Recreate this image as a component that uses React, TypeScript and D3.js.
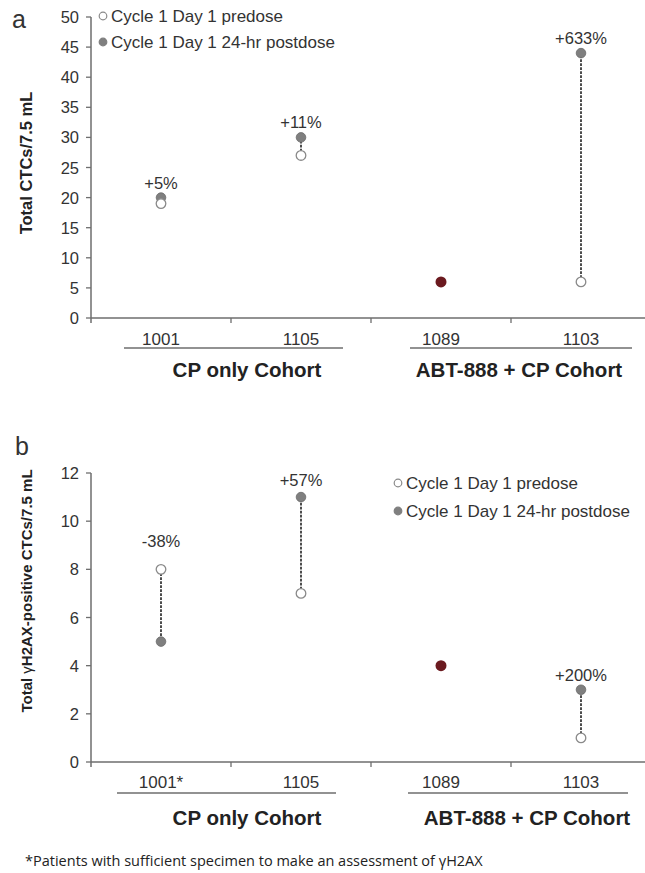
import React from "react";
import * as d3 from "d3";

const categoriesA = ["1001", "1105", "1089", "1103"];
const predoseA = [19, 27, null, 6];
const postdoseA = [20, 30, null, 44];
const unchangedA = [null, null, 6, null];
const changeA = ["+5%", "+11%", null, "+633%"];
const yTicksA = [0, 5, 10, 15, 20, 25, 30, 35, 40, 45, 50];

const categoriesB = ["1001*", "1105", "1089", "1103"];
const predoseB = [8, 7, null, 1];
const postdoseB = [5, 11, null, 3];
const unchangedB = [null, null, 4, null];
const changeB = ["-38%", "+57%", null, "+200%"];
const yTicksB = [0, 2, 4, 6, 8, 10, 12];

const legendLabels = ["Cycle 1 Day 1 predose", "Cycle 1 Day 1 24-hr postdose"];
const cohortLabels = ["CP only Cohort", "ABT-888 + CP Cohort"];
const footnote = "*Patients with sufficient specimen to make an assessment of \u03B3H2AX";

const FONT = "'Liberation Sans', Arial, sans-serif";
const TXT = "#333";
const AXIS = "#6e6e6e";

type PanelProps = {
  cats: string[];
  pre: (number | null)[];
  post: (number | null)[];
  single: (number | null)[];
  change: (string | null)[];
  ticks: number[];
  ymax: number;
  yTop: number;
  yBottom: number;
  labelLift: number[];
  legendX: number;
  legendY: number;
  legendGap: number;
  title: React.ReactNode;
  titleY: number;
  titleSize: number;
  letter: string;
  letterX: number;
  letterY: number;
  catLabelY: number;
  underlineY: number;
  underlines: [number, number][];
  cohortY: number;
  cohortX: number[];
};

function Panel(p: PanelProps) {
  const x = d3.scaleBand<string>().domain(p.cats).range([91, 651]).padding(0);
  const y = d3.scaleLinear().domain([0, p.ymax]).range([p.yBottom, p.yTop]);
  const cx = (c: string) => (x(c) as number) + x.bandwidth() / 2;
  const r = 4.8;
  return (
    <g>
      <text x={p.letterX} y={p.letterY} fontSize={25} fill={TXT} fontFamily={FONT}>{p.letter}</text>
      {/* y axis */}
      <line x1={91} x2={91} y1={y(p.ymax)} y2={y(0) + 5} stroke={AXIS} strokeWidth={1.5} />
      {p.ticks.map((t) => (
        <g key={t}>
          <line x1={86} x2={91} y1={y(t)} y2={y(t)} stroke={AXIS} strokeWidth={1.3} />
          <text x={79} y={y(t) + 6} textAnchor="end" fontSize={16.5} fill={TXT} fontFamily={FONT}>{t}</text>
        </g>
      ))}
      {/* x axis */}
      <line x1={91} x2={651} y1={y(0)} y2={y(0)} stroke={AXIS} strokeWidth={1.5} />
      {p.cats.slice(1).map((c) => (
        <line key={c} x1={x(c)} x2={x(c)} y1={y(0)} y2={y(0) + 5} stroke={AXIS} strokeWidth={1.3} />
      ))}
      {p.cats.map((c) => (
        <text key={c} x={cx(c)} y={p.catLabelY} textAnchor="middle" fontSize={17} fill={TXT} fontFamily={FONT}>{c}</text>
      ))}
      {p.underlines.map(([a, b], i) => (
        <line key={i} x1={a} x2={b} y1={p.underlineY} y2={p.underlineY} stroke={AXIS} strokeWidth={1.5} />
      ))}
      {cohortLabels.map((l, i) => (
        <text key={l} x={p.cohortX[i]} y={p.cohortY} textAnchor="middle" fontSize={20.5} fontWeight="bold" fill="#222" fontFamily={FONT}>{l}</text>
      ))}
      {/* y title */}
      <text transform={`translate(32,${p.titleY}) rotate(-90)`} textAnchor="middle" fontSize={p.titleSize} fontWeight="bold" fill="#222" fontFamily={FONT}>{p.title}</text>
      {/* marks */}
      {p.cats.map((c, i) => {
        const pre = p.pre[i];
        const post = p.post[i];
        const s = p.single[i];
        const lab = p.change[i];
        const els: React.ReactNode[] = [];
        if (pre != null && post != null) {
          const top = Math.max(pre, post);
          els.push(
            <line key="d" x1={cx(c)} x2={cx(c)} y1={y(pre)} y2={y(post)} stroke="#2e2e2e" strokeWidth={1.7} strokeDasharray="2.6,1.4" />
          );
          els.push(<circle key="post" cx={cx(c)} cy={y(post)} r={r} fill="#7f7f7f" stroke="#6a6a6a" strokeWidth={0.8} />);
          els.push(<circle key="pre" cx={cx(c)} cy={y(pre)} r={r} fill="#fff" stroke="#8a8a8a" strokeWidth={1.3} />);
          if (lab) {
            els.push(
              <text key="l" x={cx(c)} y={y(top) - p.labelLift[i] + 6} textAnchor="middle" fontSize={16.5} fill={TXT} fontFamily={FONT}>{lab}</text>
            );
          }
        }
        if (s != null) {
          els.push(<circle key="s" cx={cx(c)} cy={y(s)} r={5.5} fill="#6b1a1f" />);
        }
        return <g key={c}>{els}</g>;
      })}
      {/* legend */}
      {legendLabels.map((l, i) => (
        <g key={l}>
          <circle cx={p.legendX} cy={p.legendY + i * p.legendGap} r={3.8} fill={i === 0 ? "#fff" : "#7f7f7f"} stroke={i === 0 ? "#8a8a8a" : "#7f7f7f"} strokeWidth={1.2} />
          <text x={p.legendX + 8} y={p.legendY + i * p.legendGap + 6} fontSize={17} fill={TXT} fontFamily={FONT}>{l}</text>
        </g>
      ))}
    </g>
  );
}

export default function App() {
  return (
    <svg width={645} height={873} style={{ position: "absolute", left: 0, top: 0, background: "#fff" }}>
      <Panel
        cats={categoriesA}
        pre={predoseA}
        post={postdoseA}
        single={unchangedA}
        change={changeA}
        ticks={yTicksA}
        ymax={50}
        yTop={17}
        yBottom={318}
        labelLift={[15, 15, 0, 15]}
        legendX={103}
        legendY={16}
        legendGap={26}
        title="Total CTCs/7.5 mL"
        titleY={163}
        titleSize={16.5}
        letter="a"
        letterX={12}
        letterY={28}
        catLabelY={345}
        underlineY={348}
        underlines={[[124, 343], [410, 632]]}
        cohortY={377}
        cohortX={[247, 519]}
      />
      <Panel
        cats={categoriesB}
        pre={predoseB}
        post={postdoseB}
        single={unchangedB}
        change={changeB}
        ticks={yTicksB}
        ymax={12}
        yTop={473}
        yBottom={762}
        labelLift={[28, 17, 0, 15]}
        legendX={398}
        legendY={483}
        legendGap={28}
        title={<>Total <tspan fontWeight="normal">{"\u03B3"}</tspan>H2AX-positive CTCs/7.5 mL</>}
        titleY={591}
        titleSize={15}
        letter="b"
        letterX={15}
        letterY={455}
        catLabelY={788}
        underlineY={793}
        underlines={[[117, 336], [408, 628]]}
        cohortY={825}
        cohortX={[247, 527]}
      />
      <text x={25} y={866} fontSize={14.5} fill="#222" fontFamily="'Open Sans', 'Noto Sans', sans-serif">{footnote}</text>
    </svg>
  );
}
